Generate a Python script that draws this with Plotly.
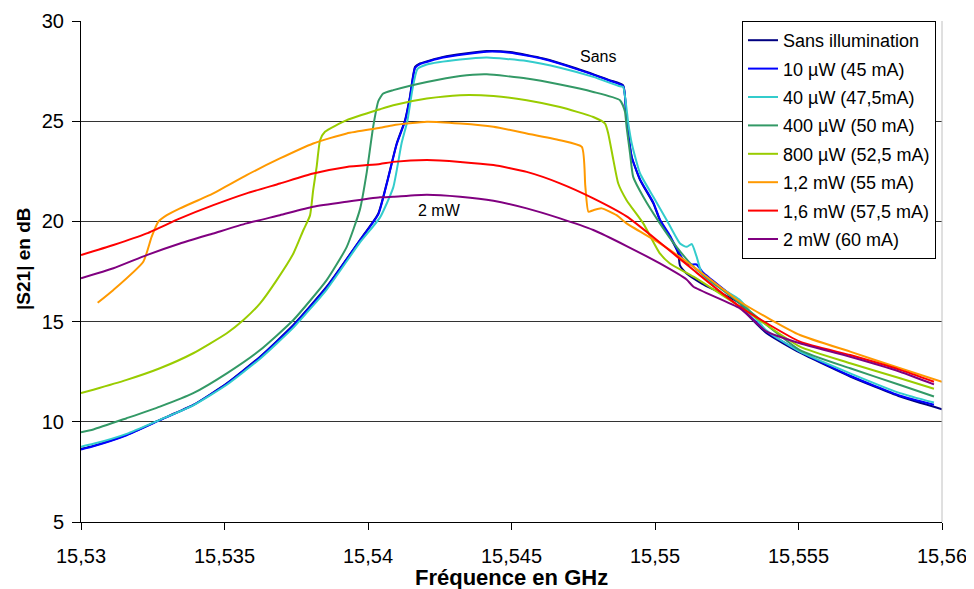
import plotly.graph_objects as go

# ---------------- data ----------------
series_names = ["Sans illumination", "10 µW (45 mA)", "40 µW (47,5mA)", "400 µW (50 mA)",
                "800 µW (52,5 mA)", "1,2 mW (55 mA)", "1,6 mW (57,5 mA)", "2 mW (60 mA)"]
series_colors = ["#000080", "#0000FF", "#33CCCC", "#339966",
                 "#99CC00", "#FF9900", "#FF0000", "#800080"]

x_sans = [15.53, 15.53043, 15.53159, 15.53275, 15.53391, 15.53508, 15.53624, 15.5374, 15.53856,
          15.53972, 15.54036, 15.54065, 15.541, 15.54129, 15.54146, 15.54164, 15.54181, 15.54262,
          15.54414, 15.54495, 15.54611, 15.54727, 15.54843, 15.54889, 15.54901, 15.54919, 15.54948,
          15.54994, 15.55017, 15.55052, 15.55081, 15.55087, 15.5511, 15.55163, 15.55296, 15.55319,
          15.55389, 15.55505, 15.5568, 15.55854, 15.56]
y_sans = [8.65, 8.8, 9.35, 10.1, 10.84, 11.92, 13.25, 14.83, 16.74,
          19.07, 20.4, 21.89, 23.89, 25.05, 26.21, 27.71, 27.88, 28.21,
          28.5, 28.45, 28.13, 27.63, 27.04, 26.79, 25.05, 23.22, 22.06,
          20.9, 20.06, 19.23, 18.4, 17.8, 17.4, 16.9, 15.91, 15.41,
          14.42, 13.45, 12.26, 11.26, 10.63]

x_10uw = [15.53, 15.53043, 15.53159, 15.53275, 15.53391, 15.53508, 15.53624, 15.5374, 15.53856,
          15.53972, 15.54036, 15.54065, 15.541, 15.54129, 15.54146, 15.54164, 15.54181, 15.54262,
          15.54414, 15.54495, 15.54611, 15.54727, 15.54843, 15.54889, 15.54901, 15.54919, 15.54948,
          15.54994, 15.55017, 15.55052, 15.55081, 15.55098, 15.5512, 15.55145, 15.55167, 15.55296,
          15.55319, 15.55389, 15.55505, 15.5568, 15.55854, 15.55972]
y_10uw = [8.62, 8.78, 9.33, 10.08, 10.83, 11.9, 13.22, 14.8, 16.7,
          19.05, 20.35, 21.85, 23.85, 25.0, 26.15, 27.65, 27.85, 28.18,
          28.47, 28.42, 28.1, 27.6, 27.02, 26.75, 25.0, 23.2, 22.1,
          20.95, 20.1, 19.3, 18.5, 18.1, 17.85, 17.85, 17.45, 15.95,
          15.45, 14.5, 13.5, 12.3, 11.3, 10.85]

x_40uw = [15.53, 15.53043, 15.53159, 15.53275, 15.53391, 15.53508, 15.53624, 15.5374, 15.53856,
          15.53972, 15.54042, 15.54088, 15.54117, 15.54137, 15.54155, 15.54172, 15.54205, 15.54321,
          15.54414, 15.54553, 15.54669, 15.54785, 15.54878, 15.54889, 15.54907, 15.54919, 15.54948,
          15.54994, 15.55041, 15.55087, 15.5511, 15.55128, 15.55145, 15.55163, 15.55192, 15.55296,
          15.55389, 15.55505, 15.5568, 15.55854, 15.55972]
y_40uw = [8.76, 8.9, 9.4, 10.1, 10.82, 11.85, 13.15, 14.7, 16.6,
          18.95, 20.2, 21.7, 23.9, 25.0, 26.6, 27.6, 27.83, 28.08,
          28.18, 28.0, 27.67, 27.21, 26.74, 26.71, 24.88, 23.89, 22.39,
          21.23, 20.06, 18.9, 18.73, 18.87, 18.24, 17.41, 16.99, 16.08,
          14.55, 13.5, 12.42, 11.43, 10.96]

x_400uw = [15.53, 15.53043, 15.53159, 15.53275, 15.53391, 15.53508, 15.53624, 15.5374, 15.53856,
           15.53926, 15.53972, 15.53995, 15.54018, 15.54036, 15.54053, 15.54088, 15.54205, 15.54321,
           15.54414, 15.54553, 15.54669, 15.54785, 15.54878, 15.54895, 15.54901, 15.54913, 15.54924,
           15.54959, 15.55017, 15.55075, 15.55134, 15.55296, 15.55505, 15.5568, 15.55854, 15.55972]
y_400uw = [9.48, 9.62, 10.18, 10.76, 11.43, 12.42, 13.58, 15.08, 17.07,
           18.73, 20.6, 22.4, 24.72, 26.0, 26.38, 26.55, 26.96, 27.26,
           27.34, 27.13, 26.83, 26.46, 26.05, 25.5, 24.72, 23.39, 22.22,
           21.23, 19.9, 18.73, 17.74, 15.91, 13.58, 12.67, 11.84, 11.26]

x_800uw = [15.53, 15.53043, 15.53159, 15.53275, 15.53391, 15.53508, 15.53566, 15.53624, 15.53682,
           15.5374, 15.53775, 15.53798, 15.53809, 15.53821, 15.53833, 15.5385, 15.53926, 15.54042,
           15.54088, 15.54205, 15.54321, 15.54437, 15.54553, 15.54669, 15.54785, 15.54826, 15.54837,
           15.54855, 15.54872, 15.54901, 15.54959, 15.55017, 15.55052, 15.55134, 15.55296, 15.55505,
           15.5568, 15.55854, 15.55972]
y_800uw = [11.43, 11.6, 12.09, 12.67, 13.42, 14.42, 15.08, 15.91, 17.07,
           18.4, 19.57, 20.3, 21.56, 22.72, 24.05, 24.47, 25.05, 25.6,
           25.8, 26.13, 26.3, 26.26, 26.05, 25.71, 25.21, 24.88, 24.39,
           23.06, 21.89, 21.06, 19.9, 18.4, 17.9, 17.24, 15.74, 13.75,
           12.92, 12.17, 11.65]

x_1_2mw = [15.53058, 15.53113, 15.53217, 15.53246, 15.53269, 15.53299, 15.53345, 15.53461, 15.53577,
           15.53693, 15.53809, 15.53926, 15.54042, 15.54088, 15.54205, 15.54321, 15.54437, 15.54553,
           15.54669, 15.54745, 15.54757, 15.54768, 15.54785, 15.54814, 15.54866, 15.54901, 15.55017,
           15.55134, 15.55296, 15.55505, 15.5568, 15.55854, 15.56]
y_1_2mw = [15.94, 16.58, 17.99, 19.23, 19.98, 20.31, 20.65, 21.4, 22.31,
           23.14, 23.89, 24.39, 24.67, 24.8, 24.97, 24.88, 24.72, 24.39,
           24.05, 23.72, 21.8, 20.48, 20.56, 20.65, 20.31, 19.9, 18.9,
           17.74, 15.99, 14.33, 13.5, 12.67, 12.0]

x_1_6mw = [15.53, 15.53113, 15.53229, 15.53345, 15.53461, 15.53577, 15.53693, 15.53809, 15.53926,
           15.54042, 15.54088, 15.54205, 15.54321, 15.54437, 15.54553, 15.54669, 15.54785, 15.54901,
           15.55017, 15.55134, 15.55296, 15.55505, 15.5568, 15.55854, 15.55972]
y_1_6mw = [18.32, 18.82, 19.4, 20.15, 20.81, 21.4, 21.89, 22.39, 22.72,
           22.87, 22.97, 23.06, 22.97, 22.81, 22.47, 21.9, 21.15, 20.25,
           18.95, 17.57, 15.74, 14.0, 13.33, 12.59, 12.0]

x_2mw = [15.53, 15.53113, 15.53229, 15.53345, 15.53461, 15.53577, 15.53693, 15.53809, 15.53926,
         15.54042, 15.54088, 15.54205, 15.54321, 15.54437, 15.54553, 15.54669, 15.54785, 15.54901,
         15.55017, 15.5511, 15.55134, 15.55296, 15.55389, 15.55505, 15.5568, 15.55854, 15.55972]
y_2mw = [17.16, 17.66, 18.32, 18.9, 19.4, 19.9, 20.31, 20.73, 20.98,
         21.2, 21.23, 21.33, 21.23, 21.03, 20.65, 20.15, 19.57, 18.77,
         17.9, 17.1, 16.74, 15.66, 14.5, 13.92, 13.25, 12.5, 11.87]

x_tick_vals = [15.53, 15.535, 15.54, 15.545, 15.55, 15.555, 15.56]
x_tick_text = ["15,53", "15,535", "15,54", "15,545", "15,55", "15,555", "15,56"]
y_tick_vals = [5, 10, 15, 20, 25, 30]
y_tick_text = ["5", "10", "15", "20", "25", "30"]

label_texts = ["Sans", "2 mW"]
label_x = [15.548, 15.5425]
label_y = [28.24, 20.56]

x_title = "Fréquence en GHz"
y_title = "|S21| en dB"

xs = [x_sans, x_10uw, x_40uw, x_400uw, x_800uw, x_1_2mw, x_1_6mw, x_2mw]
ys = [y_sans, y_10uw, y_40uw, y_400uw, y_800uw, y_1_2mw, y_1_6mw, y_2mw]

FONT = "Liberation Sans, Arial, sans-serif"

fig = go.Figure()
for name, color, x, y in zip(series_names, series_colors, xs, ys):
    fig.add_trace(go.Scatter(x=x, y=y, mode="lines", name=name, legendgroup=name,
                             line=dict(color=color, width=2, shape="spline", smoothing=0.5)))

for t, ax, ay in zip(label_texts, label_x, label_y):
    fig.add_annotation(x=ax, y=ay, text=t, showarrow=False,
                       font=dict(family=FONT, size=16, color="black"))

# axis titles
fig.add_annotation(xref="paper", yref="paper", x=0.5, y=-0.1098, xanchor="center", yanchor="middle",
                   text="<b>" + x_title + "</b>", showarrow=False,
                   font=dict(family=FONT, size=22, color="black"))
fig.add_annotation(xref="paper", yref="paper", x=-0.0662, y=0.525, xanchor="center", yanchor="middle",
                   text="<b>" + y_title + "</b>", showarrow=False, textangle=-90,
                   font=dict(family=FONT, size=19, color="black"))

fig.add_shape(type="line", xref="paper", yref="paper", x0=1, x1=1, y0=0, y1=1,
              line=dict(color="#c0c0c0", width=1))

# page body has an 8px margin: figure is shrunk by 8px so it fits the 974x589 window
fig.update_layout(
    width=966, height=581,
    margin=dict(l=73, r=32, t=13, b=67, pad=0),
    paper_bgcolor="white", plot_bgcolor="white",
    font=dict(family=FONT, size=20, color="black"),
    showlegend=True,
    legend=dict(x=0.7677, y=1.0, xanchor="left", yanchor="top",
                bordercolor="black", borderwidth=1, bgcolor="white",
                font=dict(family=FONT, size=18, color="black"),
                tracegroupgap=2, itemwidth=30, traceorder="grouped"),
)
fig.update_xaxes(range=[15.53, 15.56], tickmode="array", tickvals=x_tick_vals, ticktext=x_tick_text,
                 showgrid=False, zeroline=False, showline=True, linecolor="black", linewidth=1,
                 ticks="outside", ticklen=7, tickcolor="black", ticklabelstandoff=9,
                 tickfont=dict(family=FONT, size=20), automargin=False)
fig.update_yaxes(range=[5, 30], tickmode="array", tickvals=y_tick_vals, ticktext=y_tick_text,
                 showgrid=True, gridcolor="#333333", gridwidth=1, zeroline=False,
                 showline=True, linecolor="black", linewidth=1,
                 ticks="outside", ticklen=8, tickcolor="black", ticklabelstandoff=4,
                 tickfont=dict(family=FONT, size=20), automargin=False)

fig.write_html("out.html")
